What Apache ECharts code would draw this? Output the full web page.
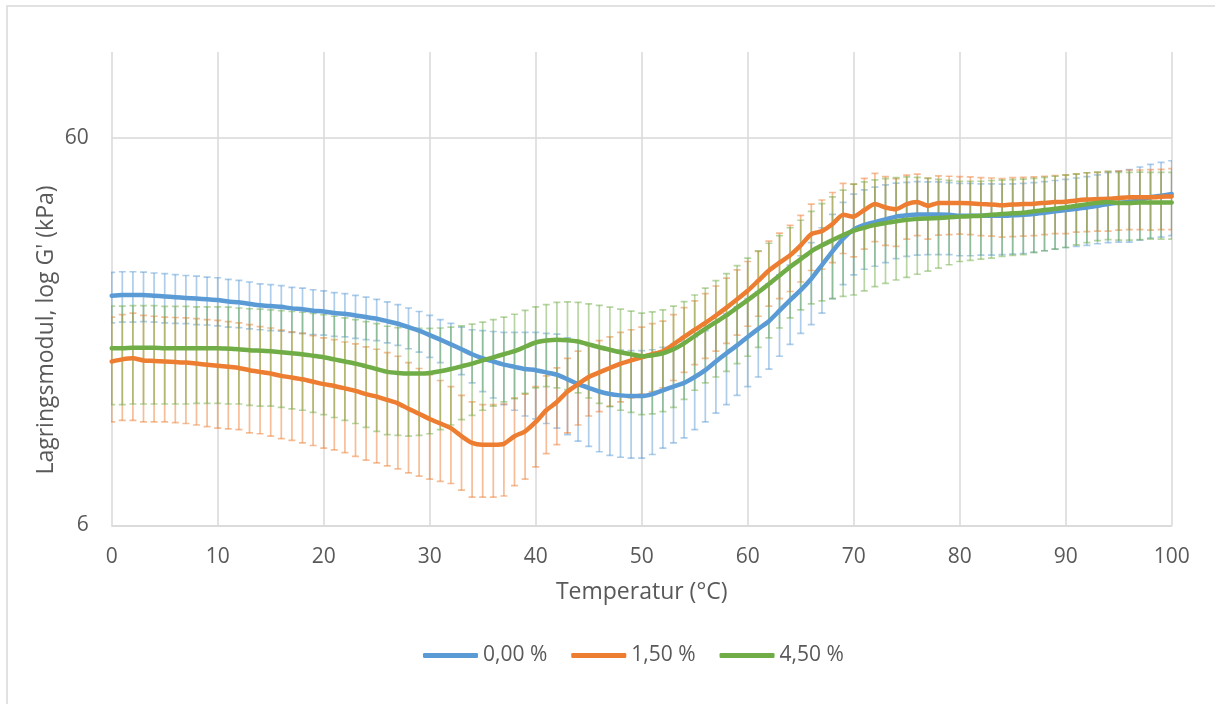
<!DOCTYPE html>
<html><head><meta charset="utf-8">
<script src="https://cdn.jsdelivr.net/npm/echarts@6/dist/echarts.min.js"></script>
<style>html,body{margin:0;padding:0;background:#fff}#c{width:1215px;height:704px}</style>
</head><body><div id="c"></div>
<script>
const temperature = [0,1,2,3,4,5,6,7,8,9,10,11,12,13,14,15,16,17,18,19,20,21,22,23,24,25,26,27,28,29,30,31,32,33,34,35,36,37,38,39,40,41,42,43,44,45,46,47,48,49,50,51,52,53,54,55,56,57,58,59,60,61,62,63,64,65,66,67,68,69,70,71,72,73,74,75,76,77,78,79,80,81,82,83,84,85,86,87,88,89,90,91,92,93,94,95,96,97,98,99,100];

const seriesNames = ['0,00 %', '1,50 %', '4,50 %'];

const mean000 = [23.5,23.6,23.6,23.6,23.5,23.4,23.3,23.2,23.1,23.0, 22.9,22.7,22.6,22.4,22.2,22.1,22.0,21.8,21.7,21.5, 21.4,21.2,21.1,20.9,20.7,20.5,20.2,19.9,19.5,19.1, 18.6,18.1,17.6,17.1,16.6,16.2,15.9,15.6,15.4,15.2, 15.1,14.9,14.7,14.3,13.9,13.6,13.3,13.1,13.0,12.95, 12.95,13.1,13.4,13.7,14.0,14.5,15.1,15.9,16.7,17.5, 18.4,19.3,20.2,21.5,22.9,24.3,26.0,28.2,30.6,33.0, 34.8,35.8,36.4,37.0,37.6,37.9,38.1,38.1,38.1,38.0, 37.8,37.8,37.8,37.8,37.8,37.9,38.0,38.2,38.5,38.8, 39.1,39.4,39.7,40.1,40.5,40.8,41.0,41.6,42.2,42.6, 43.0];
const sd000 = [3.5,3.5,3.5,3.45,3.4,3.4,3.35,3.3,3.3,3.25, 3.25,3.2,3.15,3.1,3.0,3.0,2.95,2.9,2.9,2.85, 2.8,2.75,2.7,2.65,2.6,2.5,2.45,2.4,2.35,2.3, 2.3,2.3,2.35,2.4,2.6,2.9,3.1,3.3,3.5,3.7, 3.8,3.9,4.0,4.0,4.0,4.0,4.0,4.0,4.0,4.0, 4.0,3.95,3.9,3.9,3.9,3.9,4.0,4.2,4.4,4.5, 4.7,4.8,5.0,5.1,5.3,5.5,6.2,7.0,7.5,7.9, 8.2,8.3,8.4,8.4,8.3,8.2,8.2,8.1,8.1,8.0, 8.0,8.0,7.9,7.9,7.8,7.8,7.8,7.8,7.8,7.8, 7.8,7.9,8.0,8.1,8.3,8.5,8.7,8.9,9.1,9.3, 9.4];

const mean150 = [15.9,16.1,16.2,16.0,15.95,15.9,15.85,15.8,15.7,15.6, 15.5,15.4,15.3,15.1,14.95,14.8,14.6,14.45,14.3,14.1, 13.9,13.75,13.55,13.35,13.1,12.9,12.65,12.4,12.0,11.65, 11.3,11.0,10.7,10.2,9.8,9.7,9.7,9.75,10.2,10.5, 11.1,11.9,12.5,13.3,13.9,14.5,14.9,15.3,15.7,16.0, 16.3,16.6,16.9,17.6,18.4,19.2,20.0,20.9,21.9,23.0, 24.2,25.7,27.3,28.6,29.9,31.7,33.9,34.5,36.0,38.0, 37.6,39.1,40.5,39.7,39.3,40.5,41.0,40.1,40.8,40.8, 40.8,40.7,40.5,40.4,40.2,40.4,40.5,40.6,40.8,41.0, 41.1,41.4,41.6,41.7,41.8,42.0,42.2,42.2,42.2,42.3, 42.4];
const sd150 = [4.8,4.9,5.0,4.9,4.85,4.8,4.8,4.8,4.8,4.8, 4.8,4.75,4.7,4.7,4.6,4.6,4.55,4.5,4.5,4.45, 4.4,4.35,4.3,4.3,4.25,4.2,4.1,4.0,3.8,3.6, 3.4,3.2,3.0,2.8,2.7,2.6,2.6,2.6,2.6,2.6, 2.6,2.7,2.8,2.9,3.0,3.0,3.1,3.1,3.2,3.2, 3.2,3.3,3.3,3.4,3.5,3.6,3.8,4.0,4.2,4.4, 4.6,4.9,5.2,5.5,5.8,6.2,6.6,7.0,7.4,7.8, 8.0,8.1,8.1,8.0,7.8,7.6,7.4,7.2,7.1,7.0, 6.9,6.9,6.9,6.9,6.9,7.0,7.0,7.0,7.0,7.0, 7.1,7.1,7.2,7.2,7.3,7.3,7.4,7.4,7.5,7.5, 7.6];

const mean450 = [17.2,17.2,17.25,17.25,17.25,17.2,17.2,17.2,17.2,17.2, 17.2,17.15,17.1,17.0,16.95,16.9,16.8,16.7,16.6,16.45, 16.3,16.1,15.9,15.7,15.45,15.2,14.95,14.85,14.8,14.8, 14.85,15.0,15.2,15.45,15.7,16.0,16.3,16.6,16.9,17.35, 17.8,18.0,18.1,18.05,17.9,17.6,17.3,17.05,16.8,16.6, 16.4,16.5,16.7,17.1,17.7,18.5,19.3,20.1,20.9,21.9, 22.9,24.0,25.2,26.5,27.9,29.2,30.6,31.7,32.7,33.7, 34.6,35.2,35.8,36.2,36.6,36.9,37.1,37.2,37.3,37.45, 37.6,37.7,37.8,38.0,38.2,38.35,38.5,38.8,39.1,39.4, 39.7,40.1,40.5,40.8,41.0,40.8,40.8,40.9,40.9,40.9, 40.9];
const sd450 = [4.9,4.9,4.9,4.9,4.9,4.85,4.85,4.85,4.8,4.8, 4.8,4.8,4.75,4.75,4.75,4.7,4.7,4.7,4.7,4.7, 4.7,4.7,4.7,4.7,4.7,4.7,4.65,4.6,4.6,4.55, 4.5,4.4,4.3,4.2,4.15,4.1,4.1,4.1,4.15,4.2, 4.2,4.3,4.5,4.6,4.7,4.8,4.9,4.9,4.9,4.85, 4.8,4.85,4.9,5.0,5.0,5.1,5.3,5.6,5.9,6.2, 6.5,6.7,6.9,7.1,7.3,7.6,8.2,8.9,9.6,10.3, 11.0,11.0,11.0,10.9,10.8,10.7,10.4,10.0,9.6,9.2, 8.8,8.7,8.6,8.6,8.5,8.5,8.5,8.4,8.4,8.4, 8.4,8.3,8.3,8.2,8.2,8.1,8.1,8.1,8.0,8.0, 8.0];

const xTickInterval = 10;
const yLabelValues = [6, 60];
const yMin = 6, yMax = 100;
const xTitle = 'Temperatur (°C)';
const yTitle = "Lagringsmodul, log G' (kPa)";

const lineColors = ['#5B9BD5', '#ED7D31', '#70AD47'];
const barColors = ['rgba(91,155,213,0.5)', 'rgba(237,125,49,0.5)', 'rgba(112,173,71,0.5)'];
const FONT = '"Open Sans", "Liberation Sans", sans-serif';
const TXT = '#595959';

const means = [mean000, mean150, mean450];
const sds = [sd000, sd150, sd450];

function errorSeries(idx) {
  return {
    type: 'custom',
    name: 'err' + idx,
    z: 1,
    silent: true,
    clip: true,
    data: temperature.map((t, i) => [t, means[idx][i], sds[idx][i]]),
    encode: { x: 0, y: 1 },
    renderItem: function (params, api) {
      const t = api.value(0), m = api.value(1), s = api.value(2);
      const hi = api.coord([t, m + s]);
      const lo = api.coord([t, m - s]);
      const hw = 3.5;
      const st = { stroke: barColors[idx], lineWidth: 1.7 };
      return {
        type: 'group',
        children: [
          { type: 'line', shape: { x1: hi[0], y1: hi[1], x2: lo[0], y2: lo[1] }, style: st },
          { type: 'line', shape: { x1: hi[0] - hw, y1: hi[1], x2: hi[0] + hw, y2: hi[1] }, style: st },
          { type: 'line', shape: { x1: lo[0] - hw, y1: lo[1], x2: lo[0] + hw, y2: lo[1] }, style: st }
        ]
      };
    }
  };
}

function lineSeries(idx) {
  return {
    type: 'line',
    name: seriesNames[idx],
    z: 3,
    data: temperature.map((t, i) => [t, means[idx][i]]),
    symbol: 'none',
    showSymbol: false,
    smooth: 0.2,
    lineStyle: { width: 4.5, color: lineColors[idx], cap: 'round', join: 'round' },
    itemStyle: { color: lineColors[idx] },
    emphasis: { disabled: true }
  };
}

const chart = echarts.init(document.getElementById('c'), null, { renderer: 'canvas' });
chart.setOption({
  animation: false,
  backgroundColor: '#ffffff',
  textStyle: { fontFamily: FONT },
  grid: { left: 111.7, right: 43.3, top: 52, bottom: 178.5, containLabel: false },
  xAxis: {
    type: 'value', min: 0, max: 100, interval: xTickInterval,
    name: xTitle, nameLocation: 'middle', nameGap: 55,
    nameTextStyle: { fontSize: 23, color: TXT, fontFamily: FONT },
    axisLine: { show: true, lineStyle: { color: '#d9d9d9', width: 1.5 } },
    axisTick: { show: false },
    axisLabel: { color: TXT, fontSize: 21, margin: 21, fontFamily: FONT },
    splitLine: { show: true, lineStyle: { color: '#d9d9d9', width: 1.5 } }
  },
  yAxis: {
    type: 'log', logBase: 10, min: yMin, max: yMax,
    axisLine: { show: false },
    axisTick: { show: false, customValues: yLabelValues },
    axisLabel: { color: TXT, fontSize: 21, margin: 23, fontFamily: FONT, customValues: yLabelValues },
    splitLine: { show: true, lineStyle: { color: '#d9d9d9', width: 1.5 } }
  },
  legend: {
    data: seriesNames,
    left: 423, top: 645,
    icon: 'roundRect',
    itemWidth: 55, itemHeight: 5, itemGap: 24,
    padding: 0,
    textStyle: { color: TXT, fontSize: 21, fontFamily: FONT },
    selectedMode: false
  },
  graphic: [
    { type: 'rect', silent: true, z: 0, shape: { x: 7, y: 6, width: 1220, height: 720 },
      style: { fill: null, stroke: '#d9d9d9', lineWidth: 1.5 } },
    { type: 'text', silent: true, x: 46, y: 330, rotation: Math.PI / 2,
      style: { text: yTitle, fill: TXT, fontSize: 23, fontFamily: FONT, align: 'center', verticalAlign: 'middle' } }
  ],
  series: [
    lineSeries(0), lineSeries(1), lineSeries(2),
    errorSeries(0), errorSeries(1), errorSeries(2)
  ]
});
</script>
</body></html>
